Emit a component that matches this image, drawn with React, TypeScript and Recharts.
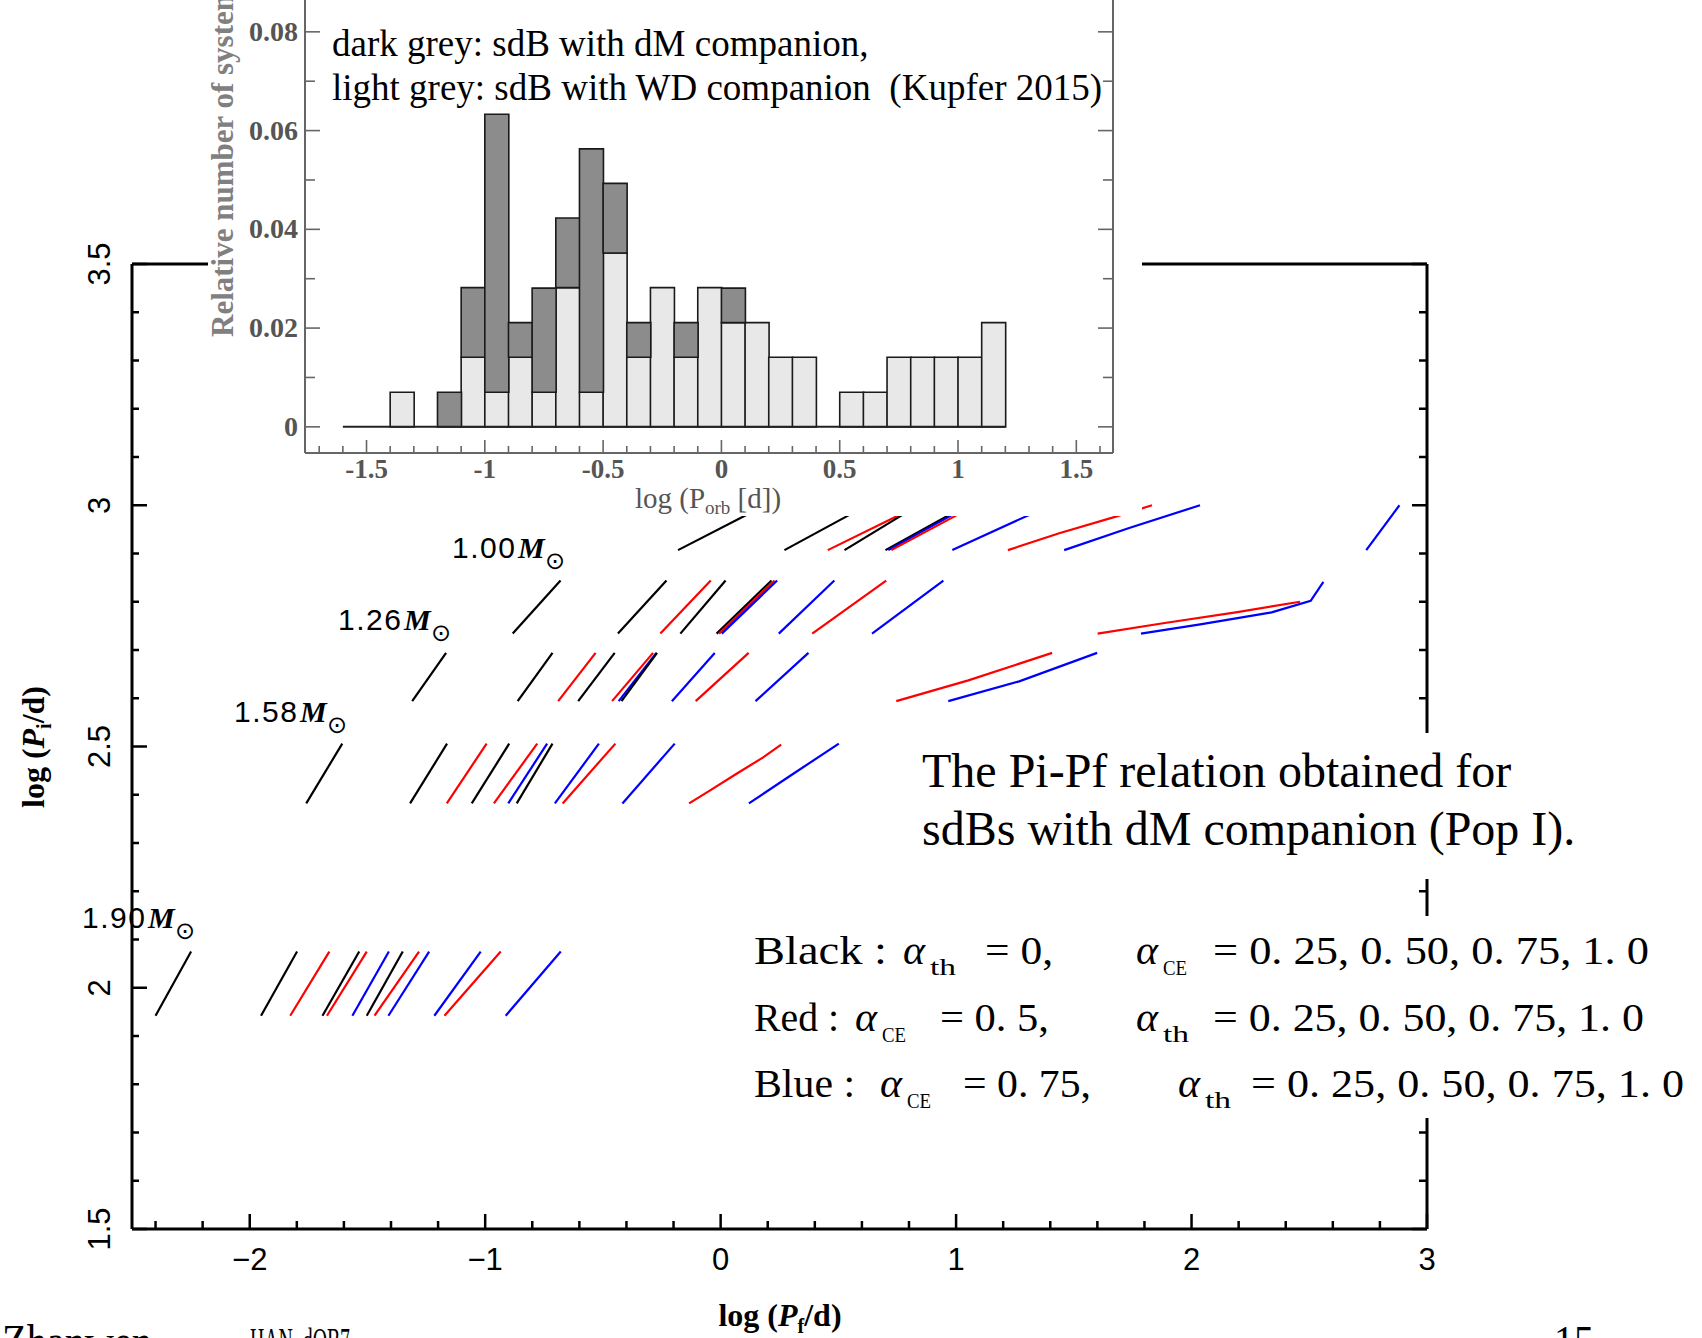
import React from "react";
import { LineChart, Line, XAxis, YAxis, BarChart, Bar, ReferenceLine } from "recharts";

// ---- main plot: log Pf (x) vs log Pi (y), one short track per model ----
type Curve = { c: "k" | "r" | "b"; pf: number[]; pi: number[] };

const rowA: Curve[] = [
  { c: "k", pf: [-2.4, -2.249], pi: [1.942, 2.075] },
  { c: "k", pf: [-1.952, -1.799], pi: [1.942, 2.075] },
  { c: "r", pf: [-1.828, -1.662], pi: [1.942, 2.075] },
  { c: "k", pf: [-1.691, -1.535], pi: [1.942, 2.075] },
  { c: "r", pf: [-1.672, -1.503], pi: [1.942, 2.075] },
  { c: "b", pf: [-1.564, -1.409], pi: [1.942, 2.075] },
  { c: "k", pf: [-1.503, -1.35], pi: [1.942, 2.075] },
  { c: "r", pf: [-1.47, -1.281], pi: [1.942, 2.075] },
  { c: "b", pf: [-1.411, -1.238], pi: [1.942, 2.075] },
  { c: "b", pf: [-1.216, -1.019], pi: [1.942, 2.075] },
  { c: "r", pf: [-1.173, -0.934], pi: [1.942, 2.075] },
  { c: "b", pf: [-0.913, -0.679], pi: [1.942, 2.075] },
];

const rowB: Curve[] = [
  { c: "k", pf: [-1.76, -1.607], pi: [2.382, 2.506] },
  { c: "k", pf: [-1.319, -1.162], pi: [2.382, 2.506] },
  { c: "r", pf: [-1.163, -0.994], pi: [2.382, 2.506] },
  { c: "k", pf: [-1.057, -0.898], pi: [2.382, 2.506] },
  { c: "r", pf: [-0.963, -0.779], pi: [2.382, 2.506] },
  { c: "b", pf: [-0.902, -0.737], pi: [2.382, 2.506] },
  { c: "k", pf: [-0.866, -0.714], pi: [2.382, 2.506] },
  { c: "b", pf: [-0.704, -0.517], pi: [2.382, 2.506] },
  { c: "r", pf: [-0.671, -0.447], pi: [2.382, 2.506] },
  { c: "b", pf: [-0.417, -0.195], pi: [2.382, 2.506] },
  { c: "r", pf: [-0.134, -0.048, 0.066, 0.179, 0.257], pi: [2.382, 2.408, 2.443, 2.477, 2.504] },
  { c: "b", pf: [0.12, 0.307, 0.502], pi: [2.382, 2.443, 2.506] },
];

const rowC: Curve[] = [
  { c: "k", pf: [-1.31, -1.166], pi: [2.594, 2.694] },
  { c: "k", pf: [-0.862, -0.714], pi: [2.594, 2.694] },
  { c: "r", pf: [-0.69, -0.531], pi: [2.594, 2.694] },
  { c: "k", pf: [-0.605, -0.45], pi: [2.594, 2.694] },
  { c: "r", pf: [-0.461, -0.287], pi: [2.594, 2.694] },
  { c: "b", pf: [-0.433, -0.273], pi: [2.594, 2.694] },
  { c: "k", pf: [-0.421, -0.27], pi: [2.594, 2.694] },
  { c: "b", pf: [-0.207, -0.025], pi: [2.594, 2.694] },
  { c: "r", pf: [-0.106, 0.119], pi: [2.594, 2.694] },
  { c: "b", pf: [0.148, 0.373], pi: [2.594, 2.694] },
  { c: "r", pf: [0.746, 1.052, 1.408], pi: [2.594, 2.637, 2.694] },
  { c: "b", pf: [0.967, 1.268, 1.599], pi: [2.594, 2.635, 2.694] },
];

const rowD: Curve[] = [
  { c: "k", pf: [-0.883, -0.68], pi: [2.734, 2.844] },
  { c: "k", pf: [-0.436, -0.23], pi: [2.734, 2.844] },
  { c: "r", pf: [-0.256, -0.042], pi: [2.734, 2.844] },
  { c: "k", pf: [-0.171, 0.021], pi: [2.734, 2.844] },
  { c: "k", pf: [-0.017, 0.216], pi: [2.734, 2.844] },
  { c: "r", pf: [-0.007, 0.229], pi: [2.734, 2.844] },
  { c: "b", pf: [0.005, 0.24], pi: [2.734, 2.844] },
  { c: "b", pf: [0.247, 0.483], pi: [2.734, 2.844] },
  { c: "r", pf: [0.389, 0.703], pi: [2.734, 2.844] },
  { c: "b", pf: [0.643, 0.946], pi: [2.734, 2.844] },
  { c: "r", pf: [1.601, 1.886, 2.188, 2.461], pi: [2.734, 2.756, 2.778, 2.8] },
  { c: "b", pf: [1.785, 2.037, 2.34, 2.506, 2.56], pi: [2.734, 2.753, 2.778, 2.802, 2.841] },
];

const rowE: Curve[] = [
  { c: "k", pf: [-0.181, 0.109], pi: [2.907, 2.98] },
  { c: "k", pf: [0.271, 0.547], pi: [2.907, 2.98] },
  { c: "r", pf: [0.455, 0.759], pi: [2.907, 2.98] },
  { c: "k", pf: [0.526, 0.772], pi: [2.907, 2.98] },
  { c: "k", pf: [0.7, 0.971], pi: [2.907, 2.98] },
  { c: "b", pf: [0.712, 0.984], pi: [2.907, 2.98] },
  { c: "r", pf: [0.725, 1.005], pi: [2.907, 2.98] },
  { c: "b", pf: [0.984, 1.31], pi: [2.907, 2.98] },
  { c: "r", pf: [1.22, 1.438, 1.682, 1.832], pi: [2.907, 2.942, 2.977, 3.0] },
  { c: "b", pf: [1.459, 1.735, 2.036], pi: [2.907, 2.953, 3.0] },
  { c: "b", pf: [2.742, 2.883], pi: [2.907, 3.0] },
];

const xTicksMain = [-2.4, -2.2, -2, -1.8, -1.6, -1.4, -1.2, -1, -0.8, -0.6, -0.4, -0.2, 0, 0.2, 0.4, 0.6, 0.8, 1, 1.2, 1.4, 1.6, 1.8, 2, 2.2, 2.4, 2.6, 2.8, 3];
const yTicksMain = [1.5, 1.6, 1.7, 1.8, 1.9, 2, 2.1, 2.2, 2.3, 2.4, 2.5, 2.6, 2.7, 2.8, 2.9, 3, 3.1, 3.2, 3.3, 3.4, 3.5];

// ---- inset histogram (Kupfer 2015) ----
const binCenters = [-1.55, -1.45, -1.35, -1.25, -1.15, -1.05, -0.95, -0.85, -0.75, -0.65, -0.55, -0.45, -0.35, -0.25, -0.15, -0.05, 0.05, 0.15, 0.25, 0.35, 0.45, 0.55, 0.65, 0.75, 0.85, 0.95, 1.05, 1.15];
const wdShare = [0, 0, 0.007, 0, 0, 0.0141, 0.007, 0.0141, 0.007, 0.0282, 0.007, 0.0352, 0.0141, 0.0282, 0.0141, 0.0282, 0.0211, 0.0211, 0.0141, 0.0141, 0, 0.007, 0.007, 0.0141, 0.0141, 0.0141, 0.0141, 0.0211];
const dmShare = [0, 0, 0, 0, 0.007, 0.0141, 0.0563, 0.007, 0.0211, 0.0141, 0.0493, 0.0141, 0.007, 0, 0.007, 0, 0.007, 0, 0, 0, 0, 0, 0, 0, 0, 0, 0, 0];
const xTicksInset = [-1.7, -1.6, -1.5, -1.4, -1.3, -1.2, -1.1, -1, -0.9, -0.8, -0.7, -0.6, -0.5, -0.4, -0.3, -0.2, -0.1, 0, 0.1, 0.2, 0.3, 0.4, 0.5, 0.6, 0.7, 0.8, 0.9, 1, 1.1, 1.2, 1.3, 1.4, 1.5, 1.6];
const yTicksInset = [0, 0.01, 0.02, 0.03, 0.04, 0.05, 0.06, 0.07, 0.08];

const massLabels = ["1.00", "1.26", "1.58", "1.90"];

const COLORS = { k: "#000000", r: "#ff0000", b: "#0000ff" };
const allCurves = [...rowA, ...rowB, ...rowC, ...rowD, ...rowE];
const histData = binCenters.map((x, i) => ({ bin: x, wd: wdShare[i], dm: dmShare[i] }));

const isStep = (v: number, s: number) => Math.abs(v / s - Math.round(v / s)) < 1e-6;
const fmtMinus = (v: number) => (v < 0 ? `\u2212${-v}` : `${v}`);

const BottomTick = (p: any) => {
  const v = p.payload.value;
  const major = isStep(v, 1);
  return (
    <g>
      <line x1={p.x} x2={p.x} y1={p.y} y2={p.y - (major ? 15 : 8)} stroke="#000" strokeWidth={2.5} />
      {major && (
        <text x={p.x} y={p.y + 41} textAnchor="middle" fontSize={31} fontFamily="Liberation Sans, Arial">
          {fmtMinus(v)}
        </text>
      )}
    </g>
  );
};
const TopTick = (p: any) => {
  const major = isStep(p.payload.value, 1);
  return <line x1={p.x} x2={p.x} y1={p.y} y2={p.y + (major ? 15 : 8)} stroke="#000" strokeWidth={2.5} />;
};
const LeftTick = (p: any) => {
  const v = p.payload.value;
  const major = isStep(v, 0.5);
  return (
    <g>
      <line x1={p.x} x2={p.x + (major ? 15 : 7)} y1={p.y} y2={p.y} stroke="#000" strokeWidth={2.5} />
      {major && (
        <text transform={`translate(${p.x - 22},${p.y}) rotate(-90)`} textAnchor="middle" fontSize={31} fontFamily="Liberation Sans, Arial">
          {v}
        </text>
      )}
    </g>
  );
};
const RightTick = (p: any) => {
  const major = isStep(p.payload.value, 0.5);
  return <line x1={p.x} x2={p.x - (major ? 15 : 8)} y1={p.y} y2={p.y} stroke="#000" strokeWidth={2.5} />;
};

const GREY = "#666";
const InsetBottomTick = (p: any) => {
  const v = p.payload.value;
  const major = isStep(v, 0.5);
  return (
    <g>
      <line x1={p.x} x2={p.x} y1={p.y} y2={p.y - (major ? 13 : 7)} stroke={GREY} strokeWidth={1.6} />
      {major && (
        <text x={p.x} y={p.y + 25} textAnchor="middle" fontSize={27} fontWeight="bold" fill="#555" fontFamily="Liberation Serif, serif">
          {v}
        </text>
      )}
    </g>
  );
};
const InsetLeftTick = (p: any) => {
  const v = p.payload.value;
  const major = isStep(v, 0.02);
  return (
    <g>
      <line x1={p.x} x2={p.x + (major ? 15 : 10)} y1={p.y} y2={p.y} stroke={GREY} strokeWidth={1.6} />
      {major && (
        <text x={p.x - 7} y={p.y + 9} textAnchor="end" fontSize={28} fontWeight="bold" fill="#555" fontFamily="Liberation Serif, serif">
          {v}
        </text>
      )}
    </g>
  );
};
const InsetRightTick = (p: any) => {
  const major = isStep(p.payload.value, 0.02);
  return <line x1={p.x} x2={p.x - (major ? 15 : 10)} y1={p.y} y2={p.y} stroke={GREY} strokeWidth={1.6} />;
};

const MassLabel = ({ x, y, m }: { x: number; y: number; m: string }) => (
  <g>
    <text x={x} y={y} fontFamily="Liberation Sans, Arial" fontSize={30} letterSpacing={1.5}>
      {m}
    </text>
    <text x={x + 66} y={y} fontFamily="Liberation Serif, serif" fontStyle="italic" fontWeight="bold" fontSize={30}>
      M
    </text>
    <text x={x + 93} y={y + 11} fontFamily="DejaVu Sans" fontSize={24}>
      {"\u2299"}
    </text>
  </g>
);

const massPos = [
  [452, 558],
  [338, 630],
  [234, 722],
  [82, 928],
];

const serif = "Liberation Serif, Times New Roman, serif";

const Alpha = ({ x, y, sub }: { x: number; y: number; sub: string }) => (
  <g fontFamily={serif}>
    <text x={x} y={y} fontSize={42} fontStyle="italic">
      {"\u03B1"}
    </text>
    <text x={x + 27} y={y + 11} fontSize={sub === "CE" ? 20 : 23} textLength={sub === "CE" ? 24 : 26} lengthAdjust="spacingAndGlyphs">
      {sub}
    </text>
  </g>
);

const Seg = ({ x, y, w, t }: { x: number; y: number; w: number; t: string }) => (
  <text x={x} y={y} fontSize={40} fontFamily={serif} textLength={w} lengthAdjust="spacingAndGlyphs" style={{ whiteSpace: "pre" }}>
    {t}
  </text>
);

const Cut = ({ x, w, t, size }: { x: number; w: number; t: string; size: number }) => (
  <text x={x} y={1338 + size * 0.42} fontSize={size} fontFamily={serif} textLength={w} lengthAdjust="spacingAndGlyphs">
    {t}
  </text>
);

export default function App() {
  return (
    <div style={{ position: "absolute", left: 0, top: 0, width: 1702, height: 1338, overflow: "hidden", background: "#fff" }}>
      {/* main Pi-Pf plot */}
      <div style={{ position: "absolute", left: 0, top: 0 }}>
        <LineChart width={1702} height={1338} margin={{ top: 263, right: 274, bottom: 108, left: 131 }}>
          <XAxis
            dataKey="pf"
            type="number"
            domain={[-2.5, 3]}
            allowDataOverflow
            ticks={xTicksMain}
            interval={0}
            height={1}
            tickSize={0}
            tickMargin={0}
            tickLine={false}
            axisLine={{ stroke: "#000", strokeWidth: 3 }}
            tick={BottomTick}
          />
          <XAxis
            xAxisId="top"
            orientation="top"
            type="number"
            domain={[-2.5, 3]}
            allowDataOverflow
            ticks={xTicksMain}
            interval={0}
            height={1}
            tickSize={0}
            tickMargin={0}
            tickLine={false}
            axisLine={{ stroke: "#000", strokeWidth: 3 }}
            tick={TopTick}
          />
          <YAxis
            type="number"
            domain={[1.5, 3.5]}
            allowDataOverflow
            ticks={yTicksMain}
            interval={0}
            width={1}
            tickSize={0}
            tickMargin={0}
            tickLine={false}
            axisLine={{ stroke: "#000", strokeWidth: 3 }}
            tick={LeftTick}
          />
          <YAxis
            yAxisId="right"
            orientation="right"
            type="number"
            domain={[1.5, 3.5]}
            allowDataOverflow
            ticks={yTicksMain}
            interval={0}
            width={1}
            tickSize={0}
            tickMargin={0}
            tickLine={false}
            axisLine={{ stroke: "#000", strokeWidth: 3 }}
            tick={RightTick}
          />
          {allCurves.map((cv, i) => (
            <Line
              key={i}
              data={cv.pf.map((x, j) => ({ pf: x, pi: cv.pi[j] }))}
              dataKey="pi"
              type="linear"
              stroke={COLORS[cv.c]}
              strokeWidth={2.2}
              dot={false}
              activeDot={false}
              isAnimationActive={false}
            />
          ))}
        </LineChart>
      </div>

      {/* inset histogram pasted on top, with its white background */}
      <div style={{ position: "absolute", left: 208, top: -30, width: 934, height: 546, background: "#fff" }}>
        <BarChart width={934} height={546} data={histData} margin={{ top: 10, right: 28, bottom: 62, left: 96 }} barCategoryGap={0} barGap={0}>
          <XAxis
            dataKey="bin"
            type="number"
            domain={[-1.76, 1.655]}
            allowDataOverflow
            ticks={xTicksInset}
            interval={0}
            height={1}
            tickSize={0}
            tickMargin={0}
            tickLine={false}
            axisLine={{ stroke: GREY, strokeWidth: 2 }}
            tick={InsetBottomTick}
          />
          <YAxis
            type="number"
            domain={[-0.0053, 0.0905]}
            allowDataOverflow
            ticks={yTicksInset}
            interval={0}
            width={1}
            tickSize={0}
            tickMargin={0}
            tickLine={false}
            axisLine={{ stroke: GREY, strokeWidth: 2 }}
            tick={InsetLeftTick}
          />
          <YAxis
            yAxisId="r"
            orientation="right"
            type="number"
            domain={[-0.0053, 0.0905]}
            allowDataOverflow
            ticks={yTicksInset}
            interval={0}
            width={1}
            tickSize={0}
            tickMargin={0}
            tickLine={false}
            axisLine={{ stroke: GREY, strokeWidth: 2 }}
            tick={InsetRightTick}
          />
          <ReferenceLine segment={[{ x: -1.6, y: 0 }, { x: 1.2, y: 0 }]} stroke="#222" strokeWidth={2} />
          <Bar dataKey="wd" stackId="s" fill="#e8e8e8" stroke="#1a1a1a" strokeWidth={1.6} isAnimationActive={false} />
          <Bar dataKey="dm" stackId="s" fill="#8c8c8c" stroke="#1a1a1a" strokeWidth={1.6} isAnimationActive={false} />
        </BarChart>
      </div>

      {/* annotations */}
      <svg width={1702} height={1338} style={{ position: "absolute", left: 0, top: 0, pointerEvents: "none" }}>
        {/* inset labels */}
        <text transform="translate(233,337) rotate(-90)" fontSize={31} fontWeight="bold" fill="#808080" fontFamily={serif}>
          Relative number of systems
        </text>
        <text x={708} y={508} textAnchor="middle" fontSize={29} fill="#555" fontFamily={serif}>
          log (P<tspan fontSize={19} dy={6}>orb</tspan>
          <tspan dy={-6}> [d])</tspan>
        </text>
        <text x={332} y={56} fontSize={37} fontFamily={serif}>
          dark grey: sdB with dM companion,
        </text>
        <text x={332} y={100} fontSize={37} fontFamily={serif} style={{ whiteSpace: "pre" }}>
          light grey: sdB with WD companion  (Kupfer 2015)
        </text>

        {/* main axis titles */}
        <text transform="translate(44,747) rotate(-90)" textAnchor="middle" fontSize={32} fontWeight="bold" fontFamily={serif}>
          log (<tspan fontStyle="italic">P</tspan>
          <tspan fontSize={20} dy={7}>i</tspan>
          <tspan dy={-7}>/d)</tspan>
        </text>
        <text x={780} y={1326} textAnchor="middle" fontSize={32} fontWeight="bold" fontFamily={serif}>
          log (<tspan fontStyle="italic">P</tspan>
          <tspan fontSize={20} dy={7}>f</tspan>
          <tspan dy={-7}>/d)</tspan>
        </text>

        {massLabels.map((m, i) => (
          <MassLabel key={m} m={m} x={massPos[i][0]} y={massPos[i][1]} />
        ))}

        {/* caption box */}
        <rect x={915} y={733} width={787} height={146} fill="#fff" />
        <text x={922} y={787} fontSize={48} fontFamily={serif}>
          The Pi-Pf relation obtained for
        </text>
        <text x={922} y={845} fontSize={48} fontFamily={serif}>
          sdBs with dM companion (Pop I).
        </text>

        {/* legend box */}
        <rect x={745} y={916} width={957} height={202} fill="#fff" />
        <Seg x={754} y={964} w={133} t="Black :" />
        <Alpha x={903} y={964} sub="th" />
        <Seg x={985} y={964} w={68} t="= 0," />
        <Alpha x={1136} y={964} sub="CE" />
        <Seg x={1213} y={964} w={436} t="= 0. 25, 0. 50, 0. 75, 1. 0" />

        <Seg x={754} y={1031} w={85} t="Red :" />
        <Alpha x={855} y={1031} sub="CE" />
        <Seg x={940} y={1031} w={109} t="= 0. 5," />
        <Alpha x={1136} y={1031} sub="th" />
        <Seg x={1213} y={1031} w={431} t="= 0. 25, 0. 50, 0. 75, 1. 0" />

        <Seg x={754} y={1097} w={101} t="Blue :" />
        <Alpha x={880} y={1097} sub="CE" />
        <Seg x={963} y={1097} w={128} t="= 0. 75," />
        <Alpha x={1178} y={1097} sub="th" />
        <Seg x={1251} y={1097} w={433} t="= 0. 25, 0. 50, 0. 75, 1. 0" />

        {/* footer, cut by the page edge */}
        <Cut x={2} w={150} t="Zhanwen" size={48} />
        <Cut x={250} w={100} t="HAN, dOB7" size={36} />
        <Cut x={1554} w={40} t="15" size={44} />
      </svg>
    </div>
  );
}
